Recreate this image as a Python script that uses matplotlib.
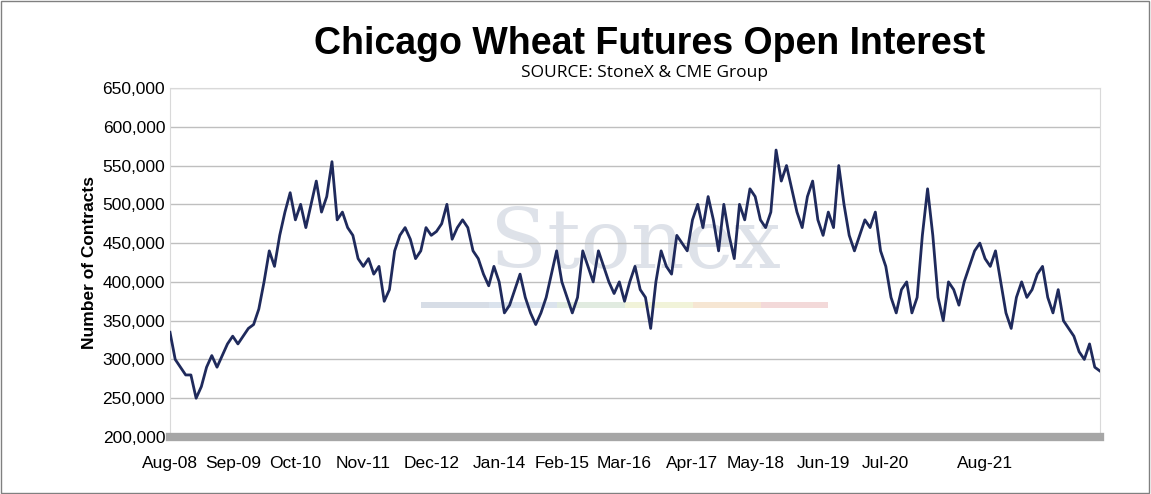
import numpy as np
import matplotlib.pyplot as plt
from matplotlib.ticker import FuncFormatter

plt.rcParams['font.family'] = ['Liberation Sans', 'DejaVu Sans']

# Open interest (thousand contracts), roughly monthly samples
open_interest = [
    335, 300, 290, 280, 280, 250, 265, 290, 305, 290, 305, 320, 330, 320, 330, 340,
    345, 365, 400, 440, 420, 460, 490, 515, 480, 500, 470, 500, 530, 490, 510, 555,
    480, 490, 470, 460, 430, 420, 430, 410, 420, 375, 390, 440, 460, 470, 455, 430,
    440, 470, 460, 465, 475, 500, 455, 470, 480, 470, 440, 430, 410, 395, 420, 400,
    360, 370, 390, 410, 380, 360, 345, 360, 380, 410, 440, 400, 380, 360, 380, 440,
    420, 400, 440, 420, 400, 385, 400, 375, 400, 420, 390, 380, 340, 400, 440, 420,
    410, 460, 450, 440, 480, 500, 470, 510, 480, 440, 500, 460, 430, 500, 480, 520,
    510, 480, 470, 490, 570, 530, 550, 520, 490, 470, 510, 530, 480, 460, 490, 470,
    550, 500, 460, 440, 460, 480, 470, 490, 440, 420, 380, 360, 390, 400, 360, 380,
    460, 520, 460, 380, 350, 400, 390, 370, 400, 420, 440, 450, 430, 420, 440, 400,
    360, 340, 380, 400, 380, 390, 410, 420, 380, 360, 390, 350, 340, 330, 310, 300,
    320, 290, 285,
]
tick_labels = ['Aug-08', 'Sep-09', 'Oct-10', 'Nov-11', 'Dec-12', 'Jan-14', 'Feb-15',
               'Mar-16', 'Apr-17', 'May-18', 'Jun-19', 'Jul-20', 'Aug-21']
tick_pos = [0, 12, 24, 37, 50, 63, 75, 87, 100, 112, 125, 137, 156]

y = np.array(open_interest) * 1000
x = np.arange(len(y))

fig = plt.figure(figsize=(11.51, 4.94), dpi=100)
ax = fig.add_axes([170/1151, 1-437/494, 930/1151, 349/494])

ax.text(0.5, 0.55, 'Stonex', transform=ax.transAxes, ha='center', va='center',
        fontsize=60, family='serif', color='#c9cfdb', alpha=0.6, zorder=0)
for i, c in enumerate(['#c7cfdc', '#cdd8e6', '#d5e3d3', '#ecefc9', '#f3dcc1', '#efc9c9']):
    ax.axhspan(366000, 374000, xmin=0.27 + i*0.073, xmax=0.27 + (i+1)*0.073,
               color=c, alpha=0.7, lw=0, zorder=0)

ax.plot(x, y, color='#1f2a5c', lw=2, zorder=3)

ax.set_ylim(200000, 650000)
ax.set_yticks(range(200000, 650001, 50000))
ax.yaxis.set_major_formatter(FuncFormatter(lambda v, p: f'{int(v):,}'))
ax.set_xlim(0, len(y) - 1)
ax.set_xticks(tick_pos)
ax.set_xticklabels(tick_labels)
ax.tick_params(axis='both', labelsize=12.5, length=0)
ax.tick_params(axis='x', pad=14)
ax.grid(axis='y', color='#bfbfbf', lw=1)
ax.set_axisbelow(True)
for s in ['top', 'right', 'left']:
    ax.spines[s].set_color('#d9d9d9')
ax.spines['bottom'].set_color('#a6a6a6')
ax.spines['bottom'].set_linewidth(6)
ax.set_ylabel('Number of Contracts', fontsize=12.5, fontweight='bold')

fig.text(0.564, 0.91, 'Chicago Wheat Futures Open Interest', ha='center', va='center',
         fontsize=27, fontweight='bold')
fig.text(0.56, 0.852, 'SOURCE: StoneX & CME Group', ha='center', va='center',
         fontsize=12.5, family='Open Sans')

fig.patches.append(plt.Rectangle((0.001, 0.002), 0.997, 0.996, transform=fig.transFigure,
                                 fill=False, edgecolor='#808080', lw=1))
fig.savefig('out.png', dpi=100)
